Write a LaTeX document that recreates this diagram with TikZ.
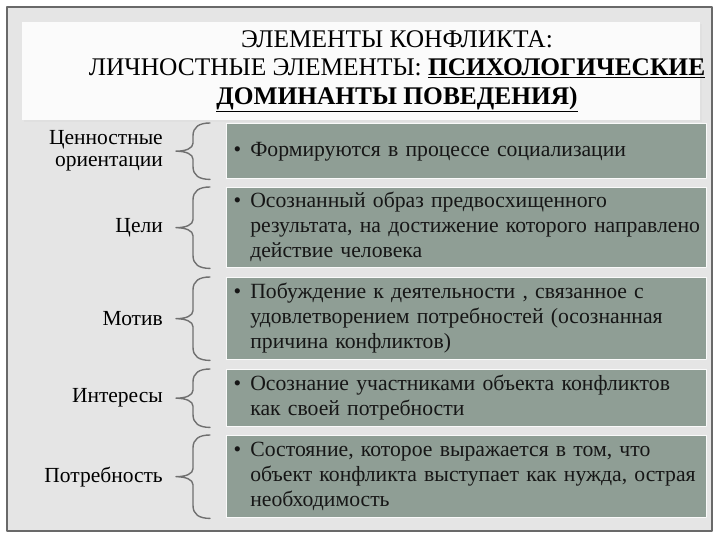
\documentclass[tikz,border=0pt]{standalone}
\usepackage{fontspec}
\setmainfont{Liberation Serif}
\usetikzlibrary{positioning,calc}
\definecolor{boxfill}{RGB}{143,158,149}
\definecolor{framefill}{RGB}{229,229,229}
\definecolor{framedraw}{RGB}{105,105,105}
\definecolor{bracecol}{RGB}{112,112,112}
\definecolor{inkcol}{RGB}{22,22,22}
\begin{document}
\begin{tikzpicture}[x=1pt,y=-1pt,line join=round,line cap=round,
	box/.style={draw=white!96!gray,line width=1.4pt,fill=boxfill,anchor=north west,minimum width=480pt,
		text width=466pt,inner xsep=7pt,inner ysep=0pt,align=left,text=inkcol,
		font=\fontsize{21.7}{25}\selectfont},
	lbl/.style={align=right,inner sep=0pt,text=black,font=\fontsize{21.5}{22}\selectfont},
	brc/.style={draw=bracecol,line width=1.4pt}]
	\useasboundingbox (0,0) rectangle (720,540);
	\draw[framedraw,line width=1.5pt,fill=framefill] (7,7) rectangle (712,531);
	\fill[black!12] (24,24) rectangle (702,122);
	\fill[white!97!gray] (22,22) rectangle (700,120);
	\node[align=center,inner sep=0pt,font=\fontsize{25.4}{28.5}\selectfont] (ttl) at (397,71)
		{ЭЛЕМЕНТЫ КОНФЛИКТА:\\ЛИЧНОСТНЫЕ ЭЛЕМЕНТЫ: \underline{\textbf{ПСИХОЛОГИЧЕСКИЕ}}\\
		\underline{\textbf{ДОМИНАНТЫ ПОВЕДЕНИЯ)}}};
	% boxes
	\node[box,minimum height=55pt] (b1) at (226,123)
		{\textbullet\hspace{9pt}\begin{tabular}[t]{@{}l@{}}Формируются в процессе социализации\end{tabular}};
	\node[box,minimum height=80pt] (b2) at (226,187)
		{\textbullet\hspace{9pt}\begin{tabular}[t]{@{}l@{}}Осознанный образ предвосхищенного\\результата, на достижение которого направлено\\действие человека\end{tabular}};
	\node[box,minimum height=82pt] (b3) at (226,277)
		{\textbullet\hspace{9pt}\begin{tabular}[t]{@{}l@{}}Побуждение к деятельности , связанное с\\удовлетворением потребностей (осознанная\\причина конфликтов)\end{tabular}};
	\node[box,minimum height=57pt] (b4) at (226,369)
		{\textbullet\hspace{9pt}\begin{tabular}[t]{@{}l@{}}Осознание участниками объекта конфликтов\\как своей потребности\end{tabular}};
	\node[box,minimum height=82pt] (b5) at (226,435)
		{\textbullet\hspace{9pt}\begin{tabular}[t]{@{}l@{}}Состояние, которое выражается в том, что\\объект конфликта выступает как нужда, острая\\необходимость\end{tabular}};
	% labels
	\node[lbl,left=63pt of b1.west] (l1) {Ценностные\\ориентации};
	\node[lbl,left=63pt of b2.west] (l2) {Цели};
	\node[lbl,left=63pt of b3.west] (l3) {Мотив};
	\node[lbl,left=63pt of b4.west] (l4) {Интересы};
	\node[lbl,left=63pt of b5.west] (l5) {Потребность};
	% braces
	\foreach \bx in {b1,b2,b3,b4,b5}{
		\draw[brc] let \p1=(\bx.north west), \p2=(\bx.south west), \p3=(\bx.west) in
			(\x1-16pt,\y1) .. controls (\x1-27pt,\y1) and (\x1-33pt,\y1-4pt) .. (\x1-33pt,\y1-13pt)
			-- (\x3-33pt,\y3+8pt) .. controls (\x3-33pt,\y3+3pt) and (\x3-40pt,\y3) .. (\x3-50pt,\y3)
			.. controls (\x3-40pt,\y3) and (\x3-33pt,\y3-3pt) .. (\x3-33pt,\y3-8pt)
			-- (\x2-33pt,\y2+13pt) .. controls (\x2-33pt,\y2+4pt) and (\x2-27pt,\y2) .. (\x2-16pt,\y2);
	}
\end{tikzpicture}
\end{document}
